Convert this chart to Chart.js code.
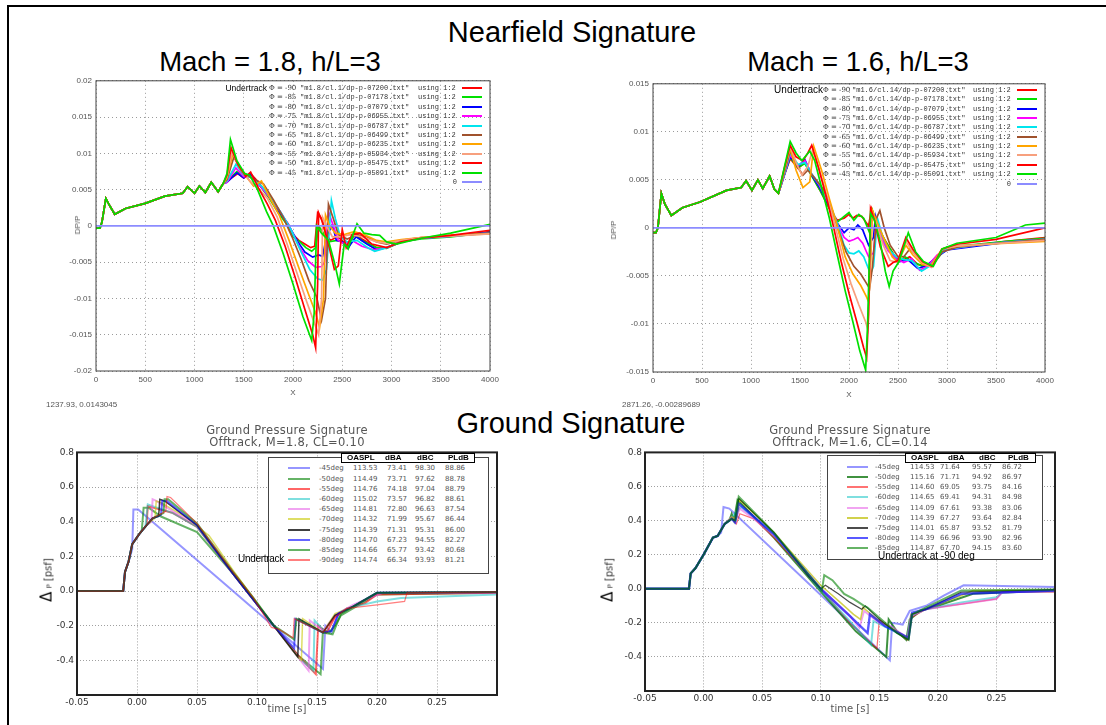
<!DOCTYPE html>
<html>
<head>
<meta charset="utf-8">
<script src="https://cdn.jsdelivr.net/npm/chart.js@4.4.1/dist/chart.umd.min.js"></script>
<style>
  body { margin: 0; width: 1106px; height: 725px; background: #fff; position: relative; overflow: hidden; font-family: 'Liberation Sans', Arial, sans-serif; }
  .frame { position: absolute; left: 7px; top: 5px; width: 1200px; height: 800px; border-left: 2.5px solid #000; border-top: 2.5px solid #000; }
  canvas { position: absolute; }
  .t { position: absolute; white-space: nowrap; line-height: 1; }
  .c { transform: translate(-50%, -50%); }
  .rot { transform: translate(-50%, -50%) rotate(-90deg); }
  .big { font-size: 29px; color: #000; }
  .gp { font-family: 'Liberation Mono', monospace; font-size: 7px; color: #333; }
  .mpl { font-family: 'DejaVu Sans', sans-serif; color: #444; }
  .box { position: absolute; background: #fff; }
  .swatch { position: absolute; height: 2px; }
</style>
</head>
<body>
<div class="frame"></div>
<script>
'use strict';

// ---------- nearfield, Mach 1.8 ----------
const NF18_PHI = [-90, -85, -80, -75, -70, -65, -60, -55, -50, -45];
const NF18_FILES = ['07200', '07178', '07079', '06955', '06787', '06499', '06235', '05934', '05475', '05091'];
const NF18_X_TICKS = [0, 500, 1000, 1500, 2000, 2500, 3000, 3500, 4000];
const NF18_Y_TICKS = [-0.02, -0.015, -0.01, -0.005, 0, 0.005, 0.01, 0.015, 0.02];
const NF18_Y_LABELS = ['-0.02', '-0.015', '-0.01', '-0.005', '0', '0.005', '0.01', '0.015', '0.02'];
const NF18_HEAD = [[0,-0.0003],[40,-0.0003],[60,0.0005],[100,0.0038],[130,0.0030],[190,0.0016],[300,0.0024],[500,0.0031],[700,0.0041],[880,0.0045],[930,0.0054],[1000,0.0045],[1050,0.0055],[1110,0.0046],[1170,0.0060],[1240,0.0047],[1290,0.0058]];
const NF18_TAILS = [
  [[1330,0.0062],[1440,0.0072],[1500,0.0066],[1570,0.0072],[1650,0.0060],[1750,0.0042],[1850,0.0020],[1950,0.0003],[2000,-0.0012],[2060,-0.0020],[2120,-0.0025],[2180,-0.0030],[2220,-0.0028],[2250,0.0018],[2290,0.0010],[2330,-0.0010],[2380,-0.0020],[2450,-0.0015],[2500,-0.0020],[2560,-0.0030],[2620,-0.0010],[2700,-0.0018],[2850,-0.0030],[2950,-0.0030],[3100,-0.0022],[3300,-0.0017],[3600,-0.0014],[4000,-0.0008]],
  [[1330,0.0062],[1430,0.0075],[1500,0.0068],[1570,0.0070],[1650,0.0058],[1750,0.0040],[1850,0.0018],[1950,0.0000],[2000,-0.0015],[2070,-0.0022],[2130,-0.0030],[2190,-0.0035],[2230,-0.0030],[2260,0.0000],[2300,-0.0008],[2360,-0.0022],[2450,-0.0020],[2500,-0.0022],[2560,-0.0032],[2620,-0.0012],[2700,-0.0020],[2850,-0.0030],[2950,-0.0031],[3100,-0.0022],[3300,-0.0018],[3600,-0.0015],[4000,-0.0009]],
  [[1330,0.0060],[1430,0.0073],[1500,0.0066],[1560,0.0072],[1650,0.0058],[1750,0.0042],[1850,0.0022],[1950,0.0002],[2050,-0.0022],[2120,-0.0036],[2200,-0.0043],[2260,-0.0040],[2300,-0.0042],[2340,-0.0015],[2400,0.0002],[2440,-0.0020],[2500,-0.0022],[2560,-0.0030],[2640,-0.0015],[2750,-0.0025],[2850,-0.0033],[2950,-0.0030],[3100,-0.0022],[3300,-0.0017],[3600,-0.0014],[4000,-0.0009]],
  [[1330,0.0060],[1420,0.0080],[1500,0.0068],[1570,0.0068],[1660,0.0056],[1760,0.0040],[1870,0.0020],[1960,0.0000],[2060,-0.0028],[2150,-0.0048],[2230,-0.0057],[2290,-0.0056],[2320,-0.0050],[2360,0.0020],[2410,0.0000],[2460,-0.0020],[2520,-0.0025],[2600,-0.0020],[2700,-0.0028],[2820,-0.0033],[2950,-0.0030],[3100,-0.0022],[3300,-0.0017],[3600,-0.0014],[4000,-0.0010]],
  [[1330,0.0062],[1420,0.0085],[1500,0.0070],[1580,0.0066],[1680,0.0055],[1780,0.0038],[1880,0.0018],[1980,-0.0005],[2080,-0.0035],[2170,-0.0060],[2250,-0.0073],[2300,-0.0075],[2340,-0.0060],[2390,0.0035],[2430,0.0010],[2480,-0.0015],[2550,-0.0022],[2650,-0.0020],[2760,-0.0030],[2830,-0.0035],[2950,-0.0030],[3100,-0.0022],[3300,-0.0017],[3600,-0.0014],[4000,-0.0010]],
  [[1330,0.0064],[1400,0.0095],[1480,0.0075],[1580,0.0066],[1700,0.0058],[1800,0.0036],[1900,0.0012],[1990,-0.0015],[2080,-0.0045],[2160,-0.0075],[2240,-0.0098],[2290,-0.0130],[2330,-0.0100],[2360,0.0030],[2410,0.0010],[2460,-0.0012],[2550,-0.0018],[2650,-0.0012],[2750,-0.0015],[2850,-0.0022],[2950,-0.0025],[3100,-0.0020],[3300,-0.0016],[3600,-0.0013],[4000,-0.0010]],
  [[1330,0.0066],[1390,0.0100],[1470,0.0078],[1600,0.0055],[1680,0.0062],[1760,0.0040],[1860,0.0015],[1960,-0.0020],[2060,-0.0058],[2160,-0.0095],[2230,-0.0120],[2270,-0.0140],[2310,-0.0100],[2330,0.0015],[2370,0.0000],[2430,-0.0010],[2520,-0.0012],[2620,-0.0008],[2720,-0.0012],[2850,-0.0020],[2950,-0.0022],[3100,-0.0019],[3300,-0.0016],[3600,-0.0013],[4000,-0.0011]],
  [[1330,0.0068],[1380,0.0102],[1460,0.0080],[1560,0.0062],[1660,0.0050],[1740,0.0038],[1840,0.0012],[1940,-0.0025],[2040,-0.0065],[2140,-0.0105],[2220,-0.0135],[2260,-0.0150],[2290,-0.0100],[2300,0.0012],[2340,0.0000],[2400,-0.0015],[2480,-0.0015],[2580,-0.0012],[2700,-0.0015],[2850,-0.0022],[2950,-0.0024],[3100,-0.0020],[3300,-0.0016],[3600,-0.0014],[4000,-0.0011]],
  [[1330,0.0070],[1370,0.0108],[1440,0.0085],[1520,0.0068],[1570,0.0074],[1650,0.0052],[1740,0.0030],[1820,0.0008],[1920,-0.0028],[2020,-0.0070],[2120,-0.0115],[2200,-0.0150],[2230,-0.0168],[2250,-0.0080],[2260,0.0018],[2300,0.0005],[2360,-0.0025],[2420,-0.0060],[2460,-0.0055],[2500,-0.0005],[2540,-0.0030],[2600,-0.0012],[2680,-0.0010],[2800,-0.0025],[2950,-0.0030],[3100,-0.0022],[3300,-0.0017],[3600,-0.0013],[4000,-0.0006]],
  [[1330,0.0072],[1365,0.0119],[1430,0.0090],[1510,0.0072],[1560,0.0070],[1640,0.0050],[1730,0.0020],[1800,0.0000],[1900,-0.0038],[2000,-0.0080],[2100,-0.0125],[2190,-0.0158],[2215,-0.0120],[2240,0.0000],[2290,-0.0010],[2360,-0.0020],[2420,-0.0050],[2470,-0.0080],[2520,-0.0025],[2560,-0.0030],[2650,0.0003],[2720,-0.0010],[2800,-0.0012],[2880,-0.0013],[2950,-0.0022],[3050,-0.0025],[3300,-0.0017],[3600,-0.0010],[4000,0.0002]],
];

// ---------- nearfield, Mach 1.6 ----------
const NF16_PHI = [-90, -85, -80, -75, -70, -65, -60, -55, -50, -45];
const NF16_FILES = ['07200', '07178', '07079', '06955', '06787', '06499', '06235', '05934', '05475', '05091'];
const NF16_Y_TICKS = [-0.015, -0.01, -0.005, 0, 0.005, 0.01, 0.015];
const NF16_Y_LABELS = ['-0.015', '-0.01', '-0.005', '0', '0.005', '0.01', '0.015'];
const NF16_HEAD = [[0,-0.0005],[30,-0.0005],[50,0.0000],[85,0.0036],[120,0.0025],[187,0.0013],[300,0.0021],[480,0.0027],[750,0.0039],[900,0.0042],[950,0.0049],[1010,0.0039],[1070,0.0050],[1120,0.0041],[1190,0.0054],[1240,0.0040],[1280,0.0036]];
const NF16_TAILS = [
  [[1340,0.0055],[1400,0.0072],[1480,0.0062],[1550,0.0068],[1620,0.0055],[1700,0.0040],[1800,0.0020],[1880,0.0008],[1950,0.0010],[2000,0.0014],[2040,0.0010],[2080,0.0013],[2130,0.0012],[2200,0.0002],[2230,0.0020],[2280,0.0005],[2340,-0.0008],[2420,-0.0022],[2500,-0.0035],[2560,-0.0033],[2620,-0.0030],[2700,-0.0038],[2800,-0.0040],[2900,-0.0030],[3000,-0.0022],[3300,-0.0018],[3600,-0.0014],[4000,-0.0010]],
  [[1340,0.0055],[1400,0.0073],[1480,0.0063],[1550,0.0067],[1620,0.0054],[1700,0.0040],[1800,0.0020],[1880,0.0006],[1950,0.0012],[2000,0.0016],[2050,0.0008],[2100,0.0014],[2150,0.0010],[2210,-0.0005],[2240,0.0018],[2290,0.0003],[2360,-0.0012],[2440,-0.0025],[2500,-0.0036],[2570,-0.0030],[2650,-0.0035],[2750,-0.0040],[2850,-0.0038],[3000,-0.0020],[3300,-0.0017],[3600,-0.0014],[4000,-0.0011]],
  [[1340,0.0055],[1400,0.0074],[1480,0.0064],[1550,0.0071],[1620,0.0055],[1700,0.0042],[1800,0.0022],[1880,0.0005],[1950,-0.0005],[2000,0.0000],[2050,-0.0002],[2090,0.0003],[2140,-0.0002],[2200,-0.0018],[2250,-0.0010],[2270,0.0012],[2320,-0.0008],[2380,-0.0020],[2450,-0.0028],[2520,-0.0035],[2600,-0.0033],[2700,-0.0042],[2780,-0.0040],[2900,-0.0030],[3000,-0.0023],[3300,-0.0019],[3600,-0.0015],[4000,-0.0012]],
  [[1340,0.0055],[1400,0.0076],[1480,0.0065],[1550,0.0070],[1620,0.0056],[1700,0.0044],[1800,0.0024],[1880,0.0004],[1950,-0.0010],[2000,-0.0014],[2050,-0.0012],[2090,-0.0010],[2140,-0.0016],[2200,-0.0030],[2250,-0.0026],[2280,0.0008],[2330,-0.0010],[2400,-0.0024],[2480,-0.0032],[2560,-0.0036],[2640,-0.0032],[2720,-0.0044],[2800,-0.0040],[2900,-0.0028],[3000,-0.0022],[3300,-0.0018],[3600,-0.0015],[4000,-0.0012]],
  [[1340,0.0056],[1400,0.0078],[1480,0.0066],[1550,0.0068],[1620,0.0056],[1700,0.0045],[1800,0.0026],[1880,0.0005],[1950,-0.0018],[2000,-0.0026],[2050,-0.0027],[2100,-0.0024],[2150,-0.0030],[2220,-0.0048],[2250,-0.0040],[2290,0.0010],[2340,-0.0008],[2400,-0.0022],[2480,-0.0030],[2560,-0.0033],[2640,-0.0034],[2740,-0.0045],[2820,-0.0040],[2920,-0.0028],[3000,-0.0022],[3300,-0.0018],[3600,-0.0015],[4000,-0.0012]],
  [[1340,0.0058],[1400,0.0080],[1470,0.0064],[1530,0.0055],[1580,0.0060],[1650,0.0052],[1740,0.0040],[1830,0.0018],[1900,-0.0005],[1970,-0.0025],[2050,-0.0040],[2120,-0.0048],[2180,-0.0058],[2210,-0.0063],[2240,-0.0040],[2280,0.0010],[2315,0.0018],[2360,0.0000],[2420,-0.0018],[2500,-0.0030],[2560,-0.0030],[2620,-0.0022],[2700,-0.0030],[2780,-0.0038],[2850,-0.0040],[2950,-0.0025],[3100,-0.0020],[3400,-0.0017],[4000,-0.0012]],
  [[1340,0.0060],[1400,0.0083],[1460,0.0060],[1530,0.0042],[1600,0.0048],[1640,0.0085],[1720,0.0060],[1800,0.0030],[1880,0.0002],[1960,-0.0030],[2040,-0.0048],[2120,-0.0060],[2180,-0.0072],[2200,-0.0077],[2220,-0.0040],[2240,0.0018],[2290,0.0005],[2360,-0.0012],[2440,-0.0030],[2500,-0.0036],[2580,-0.0018],[2650,-0.0028],[2750,-0.0038],[2830,-0.0040],[2950,-0.0022],[3100,-0.0019],[3400,-0.0017],[4000,-0.0014]],
  [[1340,0.0061],[1400,0.0085],[1460,0.0068],[1520,0.0055],[1580,0.0064],[1630,0.0082],[1700,0.0060],[1780,0.0032],[1860,0.0002],[1940,-0.0032],[2020,-0.0058],[2100,-0.0080],[2170,-0.0098],[2190,-0.0105],[2210,-0.0060],[2230,0.0016],[2280,0.0004],[2350,-0.0018],[2420,-0.0034],[2500,-0.0036],[2580,-0.0014],[2650,-0.0025],[2750,-0.0036],[2840,-0.0041],[2950,-0.0022],[3100,-0.0019],[3400,-0.0017],[4000,-0.0013]],
  [[1340,0.0062],[1400,0.0086],[1460,0.0074],[1530,0.0070],[1580,0.0078],[1620,0.0086],[1690,0.0062],[1770,0.0032],[1840,0.0002],[1920,-0.0035],[2000,-0.0068],[2080,-0.0098],[2150,-0.0125],[2180,-0.0135],[2200,-0.0090],[2220,0.0020],[2260,0.0008],[2320,-0.0020],[2400,-0.0040],[2450,-0.0036],[2500,-0.0034],[2580,-0.0010],[2650,-0.0022],[2750,-0.0035],[2850,-0.0040],[2950,-0.0022],[3100,-0.0017],[3500,-0.0012],[4000,0.0000]],
  [[1340,0.0063],[1400,0.0090],[1460,0.0078],[1520,0.0070],[1600,0.0080],[1650,0.0070],[1720,0.0042],[1800,0.0010],[1880,-0.0028],[1960,-0.0065],[2040,-0.0098],[2110,-0.0128],[2170,-0.0148],[2190,-0.0100],[2220,0.0015],[2260,0.0008],[2320,-0.0015],[2370,-0.0045],[2410,-0.0061],[2450,-0.0045],[2510,-0.0035],[2605,-0.0005],[2680,-0.0025],[2760,-0.0035],[2860,-0.0040],[2950,-0.0022],[3100,-0.0016],[3500,-0.0010],[3800,0.0003],[4000,0.0005]],
];
const NF_ZERO = [[0, 0], [4000, 0]];
const NF_COLORS = ['#ff0000', '#00e000', '#0000ff', '#ff00ff', '#00e5ee', '#a0522d', '#ffa500', '#f7a07e', '#ff0000', '#00e000'];
const NF_ZERO_COLOR = '#8c8cff';

// ---------- ground signatures ----------
const G_X_TICKS = [-0.05, 0, 0.05, 0.1, 0.15, 0.2, 0.25, 0.3];
const G_X_LABELS = ['-0.05', '0.00', '0.05', '0.10', '0.15', '0.20', '0.25', ''];
const G_Y_TICKS = [-0.6, -0.4, -0.2, 0, 0.2, 0.4, 0.6, 0.8];
const G_Y_LABELS = ['', '-0.4', '-0.2', '0.0', '0.2', '0.4', '0.6', '0.8'];

const GS18_DEG = [-45, -50, -55, -60, -65, -70, -75, -80, -85, -90];
const GS18_OASPL = ['113.53', '114.49', '114.76', '115.02', '114.81', '114.32', '114.39', '114.70', '114.66', '114.74'];
const GS18_DBA = ['73.41', '73.71', '74.18', '73.57', '72.80', '71.99', '71.31', '67.23', '65.77', '66.34'];
const GS18_DBC = ['98.30', '97.62', '97.04', '96.82', '96.63', '95.67', '95.31', '94.55', '93.42', '93.93'];
const GS18_PLDB = ['88.86', '88.78', '88.79', '88.61', '87.54', '86.44', '86.00', '82.27', '80.68', '81.21'];
const GS18_RISE = [[-0.05,0],[-0.0115,0],[-0.010,0.11],[-0.007,0.17]];
const GS18_TAILS = [
  [[-0.004,0.24],[-0.003,0.47],[0.001,0.47],[0.08,0.0],[0.155,-0.45],[0.157,-0.20],[0.162,-0.24],[0.168,-0.13],[0.18,-0.09],[0.20,-0.01],[0.30,-0.01]],
  [[-0.004,0.27],[0.002,0.33],[0.004,0.35],[0.0055,0.48],[0.010,0.48],[0.02,0.43],[0.05,0.34],[0.08,0.10],[0.097,-0.05],[0.114,-0.20],[0.134,-0.37],[0.153,-0.48],[0.155,-0.22],[0.160,-0.24],[0.165,-0.20],[0.17,-0.14],[0.18,-0.10],[0.20,-0.02],[0.30,-0.01]],
  [[-0.004,0.27],[0.002,0.33],[0.008,0.38],[0.009,0.49],[0.014,0.48],[0.03,0.45],[0.05,0.37],[0.08,0.10],[0.097,-0.05],[0.114,-0.20],[0.134,-0.37],[0.149,-0.48],[0.151,-0.20],[0.158,-0.24],[0.165,-0.15],[0.175,-0.10],[0.19,-0.07],[0.20,-0.02],[0.30,-0.01]],
  [[-0.004,0.27],[0.002,0.33],[0.007,0.37],[0.009,0.50],[0.013,0.49],[0.03,0.45],[0.05,0.37],[0.08,0.10],[0.097,-0.05],[0.114,-0.20],[0.134,-0.38],[0.147,-0.46],[0.148,-0.17],[0.156,-0.23],[0.165,-0.14],[0.175,-0.10],[0.20,-0.06],[0.22,-0.04],[0.30,-0.02]],
  [[-0.004,0.27],[0.002,0.33],[0.008,0.38],[0.012,0.40],[0.013,0.53],[0.016,0.52],[0.03,0.46],[0.05,0.38],[0.08,0.10],[0.097,-0.05],[0.114,-0.20],[0.134,-0.38],[0.143,-0.46],[0.144,-0.17],[0.155,-0.23],[0.165,-0.14],[0.18,-0.08],[0.19,-0.05],[0.205,-0.01],[0.30,-0.01]],
  [[-0.004,0.27],[0.002,0.33],[0.008,0.38],[0.015,0.42],[0.016,0.52],[0.02,0.51],[0.04,0.43],[0.06,0.32],[0.08,0.12],[0.097,-0.04],[0.114,-0.20],[0.134,-0.38],[0.137,-0.40],[0.138,-0.16],[0.155,-0.24],[0.165,-0.13],[0.18,-0.09],[0.20,-0.01],[0.30,-0.005]],
  [[-0.004,0.27],[0.002,0.33],[0.008,0.38],[0.013,0.42],[0.018,0.43],[0.019,0.53],[0.023,0.52],[0.05,0.38],[0.08,0.10],[0.097,-0.05],[0.114,-0.20],[0.134,-0.38],[0.135,-0.16],[0.155,-0.24],[0.165,-0.14],[0.18,-0.09],[0.20,-0.01],[0.30,-0.005]],
  [[-0.004,0.27],[0.002,0.33],[0.008,0.38],[0.013,0.42],[0.020,0.44],[0.021,0.52],[0.025,0.52],[0.05,0.38],[0.08,0.10],[0.097,-0.05],[0.114,-0.20],[0.131,-0.33],[0.132,-0.16],[0.155,-0.24],[0.162,-0.23],[0.168,-0.13],[0.18,-0.09],[0.20,-0.01],[0.30,-0.005]],
  [[-0.004,0.27],[0.002,0.33],[0.008,0.38],[0.013,0.42],[0.022,0.45],[0.023,0.53],[0.026,0.53],[0.05,0.39],[0.08,0.11],[0.097,-0.04],[0.114,-0.20],[0.125,-0.25],[0.131,-0.28],[0.133,-0.16],[0.155,-0.24],[0.163,-0.25],[0.17,-0.13],[0.18,-0.09],[0.20,-0.01],[0.30,-0.005]],
  [[-0.004,0.27],[0.002,0.33],[0.008,0.38],[0.013,0.42],[0.024,0.46],[0.025,0.545],[0.028,0.54],[0.05,0.39],[0.08,0.11],[0.097,-0.04],[0.112,-0.21],[0.118,-0.22],[0.125,-0.25],[0.130,-0.27],[0.131,-0.16],[0.155,-0.24],[0.165,-0.15],[0.175,-0.10],[0.20,-0.08],[0.223,-0.06],[0.225,-0.01],[0.30,-0.005]],
];
const GS18_COLORS = ['rgba(80,80,255,0.6)', 'rgba(0,128,0,0.6)', 'rgba(255,0,0,0.6)', 'rgba(0,191,191,0.5)', 'rgba(230,90,230,0.55)', 'rgba(200,200,0,0.6)', 'rgba(0,0,0,0.75)', 'rgba(0,0,255,0.6)', 'rgba(0,128,0,0.6)', 'rgba(255,0,0,0.5)'];
const GS18_WIDTHS = [2, 2, 2, 2, 2, 1.5, 1.5, 2, 2, 1.2];

const GS16_DEG = [-45, -50, -55, -60, -65, -70, -75, -80, -85];
const GS16_OASPL = ['114.53', '115.16', '114.60', '114.65', '114.09', '114.39', '114.01', '114.39', '114.87'];
const GS16_DBA = ['71.64', '71.71', '69.05', '69.41', '67.61', '67.27', '65.87', '66.96', '67.70'];
const GS16_DBC = ['95.57', '94.92', '93.75', '94.31', '93.38', '93.64', '93.52', '93.90', '94.15'];
const GS16_PLDB = ['86.72', '86.97', '84.16', '84.98', '83.06', '82.84', '81.79', '82.96', '83.60'];
const GS16_RISE = [[-0.05,0],[-0.0125,0],[-0.011,0.09],[-0.007,0.12],[0.0,0.20],[0.008,0.30],[0.012,0.31]];
const GS16_TAILS = [
  [[0.015,0.33],[0.017,0.48],[0.022,0.47],[0.159,-0.42],[0.161,-0.20],[0.170,-0.21],[0.176,-0.13],[0.19,-0.10],[0.205,-0.04],[0.222,0.02],[0.30,0.01]],
  [[0.018,0.38],[0.022,0.40],[0.024,0.44],[0.026,0.40],[0.029,0.52],[0.035,0.48],[0.06,0.30],[0.098,0.0],[0.13,-0.25],[0.156,-0.40],[0.158,-0.18],[0.165,-0.25],[0.173,-0.30],[0.176,-0.18],[0.185,-0.13],[0.20,-0.10],[0.23,-0.03],[0.30,-0.01]],
  [[0.018,0.38],[0.024,0.42],[0.028,0.38],[0.031,0.44],[0.043,0.41],[0.06,0.30],[0.10,0.0],[0.125,-0.20],[0.148,-0.35],[0.150,-0.18],[0.16,-0.23],[0.174,-0.30],[0.177,-0.17],[0.19,-0.12],[0.22,-0.09],[0.25,-0.06],[0.255,-0.02],[0.30,-0.02]],
  [[0.018,0.38],[0.024,0.42],[0.028,0.45],[0.032,0.48],[0.06,0.32],[0.099,0.0],[0.125,-0.19],[0.143,-0.33],[0.145,-0.19],[0.16,-0.24],[0.174,-0.29],[0.177,-0.16],[0.19,-0.12],[0.22,-0.08],[0.25,-0.05],[0.255,-0.02],[0.30,-0.015]],
  [[0.018,0.38],[0.024,0.42],[0.027,0.40],[0.031,0.47],[0.045,0.40],[0.065,0.28],[0.10,0.0],[0.125,-0.16],[0.133,-0.23],[0.137,-0.13],[0.150,-0.20],[0.160,-0.22],[0.174,-0.29],[0.177,-0.16],[0.19,-0.12],[0.22,-0.09],[0.25,-0.06],[0.255,-0.02],[0.30,-0.015]],
  [[0.018,0.38],[0.024,0.42],[0.028,0.41],[0.031,0.52],[0.06,0.33],[0.10,0.02],[0.115,-0.07],[0.128,-0.15],[0.134,-0.18],[0.136,-0.11],[0.150,-0.19],[0.165,-0.25],[0.175,-0.29],[0.177,-0.15],[0.19,-0.12],[0.22,-0.04],[0.23,-0.01],[0.30,-0.01]],
  [[0.018,0.38],[0.024,0.41],[0.027,0.40],[0.030,0.53],[0.06,0.33],[0.09,0.07],[0.10,0.0],[0.104,0.02],[0.115,-0.03],[0.125,-0.08],[0.135,-0.12],[0.138,-0.10],[0.15,-0.18],[0.165,-0.26],[0.175,-0.30],[0.178,-0.15],[0.19,-0.12],[0.22,-0.02],[0.30,-0.005]],
  [[0.018,0.38],[0.024,0.41],[0.027,0.39],[0.030,0.50],[0.06,0.32],[0.10,0.0],[0.125,-0.16],[0.14,-0.26],[0.142,-0.15],[0.155,-0.22],[0.17,-0.27],[0.175,-0.29],[0.178,-0.14],[0.19,-0.12],[0.22,-0.03],[0.30,-0.01]],
  [[0.018,0.38],[0.024,0.41],[0.027,0.40],[0.030,0.54],[0.06,0.33],[0.09,0.08],[0.101,-0.01],[0.103,0.08],[0.11,0.05],[0.12,-0.03],[0.128,-0.06],[0.137,-0.10],[0.140,-0.11],[0.155,-0.20],[0.165,-0.26],[0.175,-0.30],[0.178,-0.15],[0.19,-0.11],[0.22,-0.01],[0.30,-0.005]],
];
const GS16_COLORS = ['rgba(80,80,255,0.6)', 'rgba(0,110,0,0.75)', 'rgba(255,0,0,0.55)', 'rgba(0,191,191,0.5)', 'rgba(230,90,230,0.55)', 'rgba(190,190,0,0.7)', 'rgba(0,0,0,0.7)', 'rgba(0,0,255,0.65)', 'rgba(0,128,0,0.6)'];
const GS16_WIDTHS = [2, 2, 1.2, 2, 2, 1.5, 1.2, 2.4, 2];

// ---------- helpers ----------
function toPoints(arr) {
  return arr.map(p => ({ x: p[0], y: p[1] }));
}

function addText(text, x, y, cls, style) {
  const el = document.createElement('div');
  el.className = 't ' + (cls || '');
  el.textContent = text;
  el.style.left = x + 'px';
  el.style.top = y + 'px';
  Object.assign(el.style, style || {});
  document.body.appendChild(el);
  return el;
}

function addBox(l, t, r, b, style) {
  const el = document.createElement('div');
  el.className = 'box';
  el.style.left = l + 'px';
  el.style.top = t + 'px';
  el.style.width = (r - l) + 'px';
  el.style.height = (b - t) + 'px';
  Object.assign(el.style, style || {});
  document.body.appendChild(el);
  return el;
}

function addSwatch(l, r, y, color, width) {
  const el = document.createElement('div');
  el.className = 'swatch';
  el.style.left = l + 'px';
  el.style.width = (r - l) + 'px';
  el.style.top = (y - width / 2) + 'px';
  el.style.height = width + 'px';
  el.style.background = color;
  document.body.appendChild(el);
}

const framePlugin = {
  id: 'frame',
  afterDraw(chart, args, opts) {
    const { ctx, chartArea: a } = chart;
    ctx.save();
    ctx.strokeStyle = opts.color;
    ctx.lineWidth = opts.width;
    ctx.strokeRect(a.left, a.top, a.right - a.left, a.bottom - a.top);
    ctx.restore();
  },
};

function makePlot(cfg) {
  const [l, t, r, b] = cfg.plot;
  const left = l - cfg.yw;
  const top = t - cfg.padT;
  const w = r + cfg.padR - left;
  const h = b + cfg.xh - top;
  const cv = document.createElement('canvas');
  cv.width = w;
  cv.height = h;
  cv.style.left = left + 'px';
  cv.style.top = top + 'px';
  cv.style.width = w + 'px';
  cv.style.height = h + 'px';
  document.body.appendChild(cv);

  const tickFont = { family: cfg.tickFamily, size: cfg.tickSize };
  const grid = { color: cfg.gridColor, lineWidth: 1, drawTicks: false };
  const border = { display: false, dash: cfg.gridDash };

  return new Chart(cv, {
    type: 'line',
    data: { datasets: cfg.datasets },
    options: {
      responsive: false,
      animation: false,
      events: [],
      layout: { padding: { top: cfg.padT, right: cfg.padR, left: 0, bottom: 0 } },
      elements: { point: { radius: 0 }, line: { tension: 0 } },
      plugins: {
        legend: { display: false },
        tooltip: { enabled: false },
        frame: { color: cfg.frameColor, width: cfg.frameWidth },
      },
      scales: {
        x: {
          type: 'linear',
          min: cfg.xTicks[0],
          max: cfg.xTicks[cfg.xTicks.length - 1],
          grid, border,
          afterFit: s => { s.height = cfg.xh; },
          afterBuildTicks: s => { s.ticks = cfg.xTicks.map(v => ({ value: v })); },
          ticks: { autoSkip: false, maxRotation: 0, padding: cfg.xPad, font: tickFont, color: cfg.tickColor,
                   callback: (v, i) => cfg.xLabels[i] },
        },
        y: {
          type: 'linear',
          min: cfg.yTicks[0],
          max: cfg.yTicks[cfg.yTicks.length - 1],
          grid, border,
          afterFit: s => { s.width = cfg.yw; },
          afterBuildTicks: s => { s.ticks = cfg.yTicks.map(v => ({ value: v })); },
          ticks: { autoSkip: false, padding: cfg.yPad, font: tickFont, color: cfg.tickColor,
                   callback: (v, i) => cfg.yLabels[i] },
        },
      },
    },
    plugins: [framePlugin],
  });
}

function nearfieldSets(head, tails) {
  const sets = tails.map((tail, i) => ({
    data: toPoints(head.concat(tail)),
    borderColor: NF_COLORS[i],
    borderWidth: 1.7,
    order: tails.length - i,
  }));
  sets.push({ data: toPoints(NF_ZERO), borderColor: NF_ZERO_COLOR, borderWidth: 1.6, order: 0 });
  return sets;
}

function groundSets(rise, tails, colors, widths) {
  return tails.map((tail, i) => ({
    data: toPoints(rise.concat(tail)),
    borderColor: colors[i],
    borderWidth: widths[i],
    order: tails.length - i,
  }));
}

const GNUPLOT = { tickFamily: "'Liberation Sans', Arial, sans-serif", tickSize: 8, tickColor: '#555',
                  gridColor: '#9a9a9a', gridDash: [1, 3], frameColor: '#444', frameWidth: 1 };
const MPL = { tickFamily: "'DejaVu Sans', sans-serif", tickSize: 9, tickColor: '#333',
              gridColor: '#a0a0a0', gridDash: [1, 2], frameColor: '#222', frameWidth: 2 };

// ---------- headings ----------
addText('Nearfield Signature', 572, 32, 'c big');
addText('Mach = 1.8, h/L=3', 270, 62, 'c big', { fontSize: '27.5px' });
addText('Mach = 1.6, h/L=3', 858, 62, 'c big', { fontSize: '27.5px' });
addText('Ground Signature', 571, 423, 'c big');

// ---------- top left ----------
makePlot(Object.assign({}, GNUPLOT, {
  plot: [96, 80, 490, 371], yw: 50, padT: 8, padR: 14, xh: 20, xPad: 4, yPad: 4,
  xTicks: NF18_X_TICKS, xLabels: NF18_X_TICKS.map(String),
  yTicks: NF18_Y_TICKS, yLabels: NF18_Y_LABELS,
  datasets: nearfieldSets(NF18_HEAD, NF18_TAILS),
}));
addText('DP/P', 78, 225, 'rot', { fontSize: '8px', color: '#555' });
addText('X', 293, 393, 'c', { fontSize: '8px', color: '#555' });
addText('1237.93,  0.0143045', 46, 405, '', { fontSize: '8px', color: '#555', transform: 'translateY(-50%)' });

function nearfieldLegend(phis, files, prefix, cols, rowY0, rowStep, underSize) {
  phis.forEach((phi, i) => {
    const y = rowY0 + i * rowStep;
    addText('\u03a6 = ' + phi, cols.phi, y, 'gp', { transform: 'translateY(-50%)', fontFamily: "'DejaVu Serif', serif", fontSize: '7px' });
    addText('"' + prefix + '/dp-p-' + files[i] + '.txt"', cols.file, y, 'gp', { transform: 'translateY(-50%)' });
    addText('using 1:2', cols.using, y, 'gp', { transform: 'translateY(-50%)' });
    addSwatch(cols.s0, cols.s1, y, NF_COLORS[i], 2);
  });
  const yz = rowY0 + phis.length * rowStep;
  addText('0', cols.zero, yz, 'gp', { transform: 'translate(-100%, -50%)' });
  addSwatch(cols.s0, cols.s1, yz, NF_ZERO_COLOR, 2);
  addText('Undertrack', cols.under, rowY0, '', { fontSize: underSize + 'px', color: '#000', transform: 'translate(-100%, -50%)' });
}
nearfieldLegend(NF18_PHI, NF18_FILES, 'm1.8/cl.1', { under: 267, phi: 269, file: 300, using: 418, s0: 462, s1: 482, zero: 457 }, 88, 9.4, 8.5);

// ---------- top right ----------
makePlot(Object.assign({}, GNUPLOT, {
  plot: [653, 83, 1045, 372], yw: 50, padT: 8, padR: 14, xh: 20, xPad: 4, yPad: 4,
  xTicks: NF18_X_TICKS, xLabels: NF18_X_TICKS.map(String),
  yTicks: NF16_Y_TICKS, yLabels: NF16_Y_LABELS,
  datasets: nearfieldSets(NF16_HEAD, NF16_TAILS),
}));
addText('DP/P', 614, 230, 'rot', { fontSize: '8px', color: '#555' });
addText('X', 849, 395, 'c', { fontSize: '8px', color: '#555' });
addText('2871.26, -0.00289689', 622, 405, '', { fontSize: '8px', color: '#555', transform: 'translateY(-50%)' });
nearfieldLegend(NF16_PHI, NF16_FILES, 'm1.6/cl.14', { under: 823, phi: 823, file: 852, using: 973, s0: 1017, s1: 1037, zero: 1011 }, 90, 9.35, 10);

// ---------- bottom left ----------
makePlot(Object.assign({}, MPL, {
  plot: [77, 452, 497, 695], yw: 45, padT: 8, padR: 14, xh: 16, xPad: 2, yPad: 3,
  xTicks: G_X_TICKS, xLabels: G_X_LABELS, yTicks: G_Y_TICKS, yLabels: G_Y_LABELS,
  datasets: groundSets(GS18_RISE, GS18_TAILS, GS18_COLORS, GS18_WIDTHS),
}));

function groundDecor(cx, titleLine2, ylabX, box, header, hcols, rows, cols, deg, oaspl, dba, dbc, pldb, colors, widths) {
  addText('Ground Pressure Signature', cx, 431, 'c mpl', { fontSize: '11.5px', color: '#555', letterSpacing: '0.3px' });
  addText(titleLine2, cx, 443, 'c mpl', { fontSize: '11.5px', color: '#555', letterSpacing: '0.3px' });
  addText('time [s]', cx, 709, 'c mpl', { fontSize: '10px', color: '#555' });
  const yl = addText('', ylabX, 580, 'rot mpl', { fontSize: '10px', color: '#333' });
  yl.innerHTML = '<span style="font-size:15px;color:#000">\u0394</span> <span style="font-size:7px">P</span> [psf]';

  addBox(box[0], box[1], box[2], box[3], { border: '1.5px solid #444', boxSizing: 'border-box' });
  deg.forEach((d, i) => {
    const y = rows.y0 + i * rows.step;
    addSwatch(cols.s0, cols.s1, y, colors[i], Math.max(2, widths[i]));
    const st = { fontSize: '7px', color: '#555', transform: 'translateY(-50%)' };
    addText(d + 'deg', cols.deg, y, 'mpl', st);
    addText(oaspl[i], cols.oaspl, y, 'mpl', st);
    addText(dba[i], cols.dba, y, 'mpl', st);
    addText(dbc[i], cols.dbc, y, 'mpl', st);
    addText(pldb[i], cols.pldb, y, 'mpl', st);
  });
  addBox(header[0], header[1], header[2], header[3], { border: '1.5px solid #000', boxSizing: 'border-box' });
  const hy = (header[1] + header[3]) / 2;
  const hs = { fontSize: '8px', fontWeight: 'bold', color: '#000', transform: 'translateY(-50%)' };
  addText('OASPL', hcols[0], hy, '', hs);
  addText('dBA', hcols[1], hy, '', hs);
  addText('dBC', hcols[2], hy, '', hs);
  addText('PLdB', hcols[3], hy, '', hs);
}

groundDecor(287, 'Offtrack, M=1.8, CL=0.10', 47,
  [268, 457, 489, 574], [341, 453, 475, 463], [347, 385, 417, 448],
  { y0: 468.3, step: 10.2 }, { s0: 288, s1: 310, deg: 319, oaspl: 353, dba: 387, dbc: 415, pldb: 445 },
  GS18_DEG, GS18_OASPL, GS18_DBA, GS18_DBC, GS18_PLDB, GS18_COLORS, GS18_WIDTHS);
addText('Undertrack', 238, 559, '', { fontSize: '10px', color: '#000', transform: 'translateY(-50%)', letterSpacing: '-0.3px' });

// ---------- bottom right ----------
makePlot(Object.assign({}, MPL, {
  plot: [645, 452, 1055, 691], yw: 45, padT: 8, padR: 14, xh: 16, xPad: 2, yPad: 3,
  xTicks: G_X_TICKS, xLabels: G_X_LABELS, yTicks: G_Y_TICKS, yLabels: G_Y_LABELS,
  datasets: groundSets(GS16_RISE, GS16_TAILS, GS16_COLORS, GS16_WIDTHS),
}));
groundDecor(850, 'Offtrack, M=1.6, CL=0.14', 608,
  [827, 455, 1043, 560], [905, 453, 1036, 463], [911, 948, 979, 1008],
  { y0: 466.7, step: 10.2 }, { s0: 847, s1: 868, deg: 875, oaspl: 910, dba: 940, dbc: 972, pldb: 1002 },
  GS16_DEG, GS16_OASPL, GS16_DBA, GS16_DBC, GS16_PLDB, GS16_COLORS, GS16_WIDTHS);
addText('Undertrack at -90 deg', 878, 556, '', { fontSize: '10px', color: '#000', transform: 'translateY(-50%)' });
</script>
</body>
</html>
